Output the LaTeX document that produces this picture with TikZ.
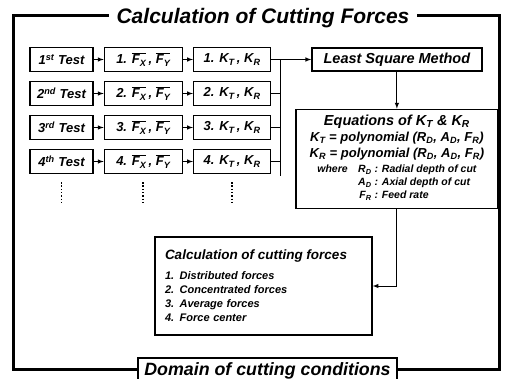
\documentclass[tikz,border=0pt]{standalone}
\usepackage{fontspec}
\setmainfont{Liberation Sans}
\usepackage{tikz}
\usetikzlibrary{shapes.geometric, arrows, positioning}

\newcommand{\avgF}[1]{$\overline{\mbox{F\textsubscript{#1}}}$}

\begin{document}
\begin{tikzpicture}[x=1pt, y=-1pt,
    stage/.style={rectangle, draw, line width=1.3pt, minimum height=24pt, inner sep=1pt, font=\fontsize{13}{15}\selectfont\bfseries\itshape},
    panel/.style={rectangle, draw, line width=1.3pt, font=\bfseries\itshape},
    rel/.style={-latex, line width=1pt},
    link/.style={line width=1pt},
    vdots/.style={line width=1.8pt, dash pattern=on 1.4pt off 1.9pt}
]
\useasboundingbox (0,0) rectangle (506,378);
\clip (0,0) rectangle (506,378);

% outer frame
\draw[line width=3pt] (13,15) rectangle (499,369);
\node[fill=white, inner xsep=8pt, anchor=base, font=\fontsize{21}{24}\selectfont\bfseries\itshape] (title) at (263,23) {Calculation of Cutting Forces};
\node[draw, fill=white, line width=1.5pt, anchor=base, minimum width=259pt, text height=13pt, text depth=5pt, inner ysep=4pt, font=\fontsize{17.8}{20}\selectfont\bfseries\itshape] (domain) at (267.5,375) {Domain of cutting conditions};

% tests
\node[stage, minimum width=63pt] (test1) at (61.5,59.5) {1\textsuperscript{st} Test};
\node[stage, minimum width=78pt, right=10pt of test1] (favg1) {1. \avgF{X}\,, \avgF{Y}};
\node[stage, minimum width=77pt, right=10pt of favg1] (coef1) {1. K\textsubscript{T}\,, K\textsubscript{R}};

\node[stage, minimum width=63pt, below=8.7pt of test1] (test2) {2\textsuperscript{nd} Test};
\node[stage, minimum width=78pt, right=10pt of test2] (favg2) {2. \avgF{X}\,, \avgF{Y}};
\node[stage, minimum width=77pt, right=10pt of favg2] (coef2) {2. K\textsubscript{T}\,, K\textsubscript{R}};

\node[stage, minimum width=63pt, below=8.7pt of test2] (test3) {3\textsuperscript{rd} Test};
\node[stage, minimum width=78pt, right=10pt of test3] (favg3) {3. \avgF{X}\,, \avgF{Y}};
\node[stage, minimum width=77pt, right=10pt of favg3] (coef3) {3. K\textsubscript{T}\,, K\textsubscript{R}};

\node[stage, minimum width=63pt, below=8.7pt of test3] (test4) {4\textsuperscript{th} Test};
\node[stage, minimum width=78pt, right=10pt of test4] (favg4) {4. \avgF{X}\,, \avgF{Y}};
\node[stage, minimum width=77pt, right=10pt of favg4] (coef4) {4. K\textsubscript{T}\,, K\textsubscript{R}};

\draw[rel] (test1) -- (favg1);
\draw[rel] (favg1) -- (coef1);
\draw[rel] (test2) -- (favg2);
\draw[rel] (favg2) -- (coef2);
\draw[rel] (test3) -- (favg3);
\draw[rel] (favg3) -- (coef3);
\draw[rel] (test4) -- (favg4);
\draw[rel] (favg4) -- (coef4);

\draw[vdots] ([yshift=-8pt]test4.south) -- ([yshift=-30pt]test4.south);
\draw[vdots] ([yshift=-8pt]favg4.south) -- ([yshift=-30pt]favg4.south);
\draw[vdots] ([yshift=-8pt]coef4.south) -- ([yshift=-30pt]coef4.south);

% fitting
\node[panel, minimum width=170pt, minimum height=23pt, right=40pt of coef1, font=\fontsize{14.5}{17}\selectfont\bfseries\itshape] (lsm) {Least Square Method};
\node[panel, below=37pt of lsm, minimum width=202pt, minimum height=99pt, align=center, font=\fontsize{13}{16}\selectfont\bfseries\itshape] (eqn) {%
  {\fontsize{14.5}{17}\selectfont Equations of K\textsubscript{T} \& K\textsubscript{R}}\\
  K\textsubscript{T} = polynomial (R\textsubscript{D}, A\textsubscript{D}, F\textsubscript{R})\\
  K\textsubscript{R} = polynomial (R\textsubscript{D}, A\textsubscript{D}, F\textsubscript{R})\\[2pt]
  {\fontsize{10.5}{13}\selectfont\begin{tabular}{@{}r@{ : }l@{}}
    where\quad R\textsubscript{D} & Radial depth of cut\\
    A\textsubscript{D} & Axial depth of cut\\
    F\textsubscript{R} & Feed rate
  \end{tabular}}};
\node[panel, inner xsep=10pt, text width=197pt, minimum height=98pt, align=left, font=\fontsize{11}{14}\selectfont\bfseries\itshape] (calc) at (263.5,286) {%
  {\fontsize{13.5}{16}\selectfont Calculation of cutting forces}\\[6pt]
  1. Distributed forces\\
  2. Concentrated forces\\
  3. Average forces\\
  4. Force center};

\coordinate (bus) at (280,176);
\draw[rel] (coef1) -- (lsm);
\draw[link] (coef1.east -| bus) -- (bus);
\draw[link] (coef2.east) -- (coef2.east -| bus);
\draw[link] (coef3.east) -- (coef3.east -| bus);
\draw[link] (coef4.east) -- (coef4.east -| bus);
\draw[rel] (lsm) -- (eqn);
\draw[rel] (eqn.south) |- (calc.east);
\end{tikzpicture}
\end{document}
